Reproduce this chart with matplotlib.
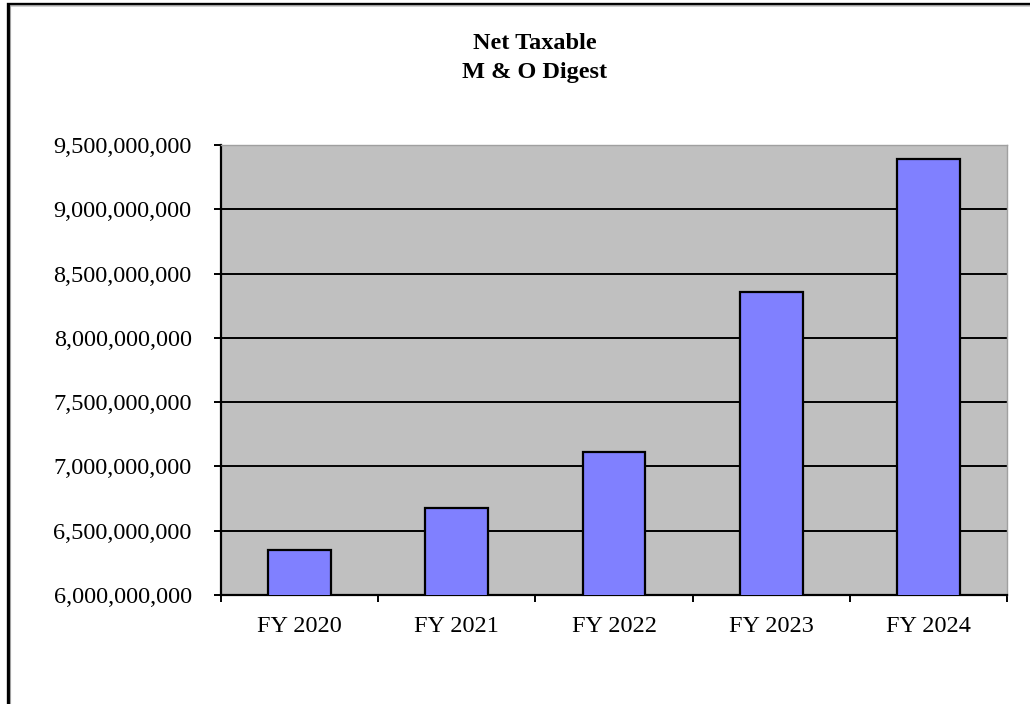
import matplotlib
matplotlib.use("Agg")
import matplotlib.pyplot as plt
from matplotlib.patches import Rectangle
from matplotlib.ticker import FuncFormatter, MultipleLocator, FixedLocator
import numpy as np

YEARS = ["FY 2020", "FY 2021", "FY 2022", "FY 2023", "FY 2024"]
DIGEST = [6350000000, 6680000000, 7110000000, 8360000000, 9390000000]

TITLE = "Net Taxable\nM & O Digest"
BAR_COLOUR = "#8080FF"
PLOT_BG = "#C0C0C0"

W, H = 1030, 704


def main():
    plt.rcParams["font.family"] = ["Liberation Serif", "DejaVu Serif"]

    fig = plt.figure(figsize=(W / 100, H / 100), dpi=100)
    fig.patch.set_facecolor("white")
    ax = fig.add_axes([221 / W, 1 - 595 / H, (1007 - 221) / W, (595 - 145) / H])
    ax.set_facecolor(PLOT_BG)

    x = np.arange(len(YEARS))
    ax.bar(x, DIGEST, width=0.4, color=BAR_COLOUR, edgecolor="black",
           linewidth=1.6, zorder=3)

    ax.set_xlim(-0.5, len(YEARS) - 0.5)
    ax.set_ylim(6.0e9, 9.5e9)
    ax.yaxis.set_major_locator(MultipleLocator(5e8))
    ax.yaxis.set_major_formatter(FuncFormatter(lambda v, p: "{:,.0f}".format(v)))
    ax.grid(axis="y", color="black", linewidth=1.4, zorder=1)
    ax.set_axisbelow(True)

    # category labels centred under bars, tick marks between categories
    ax.set_xticks(x)
    ax.set_xticklabels(YEARS)
    ax.xaxis.set_minor_locator(FixedLocator(np.arange(-0.5, len(YEARS), 1.0)))
    ax.tick_params(axis="x", which="major", length=0, pad=15, labelsize=17.5)
    ax.tick_params(axis="x", which="minor", length=5, width=1.4, direction="out")
    ax.tick_params(axis="y", length=5, width=1.4, direction="out", pad=16,
                   labelsize=17.5)

    for side in ("left", "bottom"):
        ax.spines[side].set_linewidth(1.6)
        ax.spines[side].set_color("black")
    for side in ("top", "right"):
        ax.spines[side].set_linewidth(1.0)
        ax.spines[side].set_color("#A0A0A0")

    fig.text(535 / W, 1 - 58 / H, TITLE, ha="center", va="center",
             fontsize=17.5, fontweight="bold", linespacing=1.55)

    # outer frame (only top and left edges fall inside the canvas)
    fig.patches.append(Rectangle((7.5 / W, -0.1), 1.2, 1 - 3.5 / H + 0.1,
                                 transform=fig.transFigure, fill=False,
                                 edgecolor="black", linewidth=2.4))
    fig.patches.append(Rectangle((9.5 / W, -0.1), 1.2, 1 - 5.5 / H + 0.1,
                                 transform=fig.transFigure, fill=False,
                                 edgecolor="#A0A0A0", linewidth=0.8))

    fig.savefig("out.png", dpi=100)


if __name__ == "__main__":
    main()
